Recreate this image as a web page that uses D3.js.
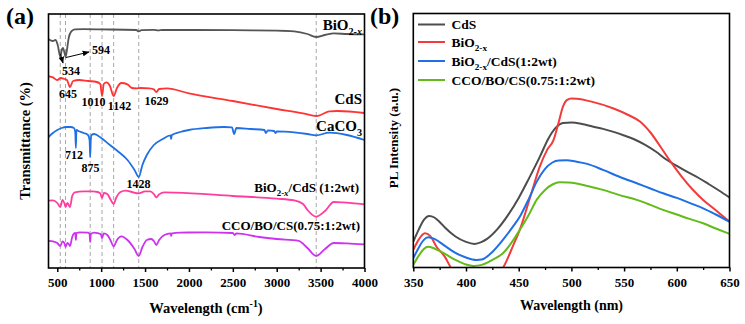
<!DOCTYPE html>
<html>
<head>
  <meta charset="utf-8">
  <title>FTIR and PL spectra</title>
  <style>
    body { margin: 0; background: #fff; }
    text { font-family: "Liberation Serif", "Times New Roman", serif; font-weight: bold; fill: #000; }
  </style>
</head>
<body>
<div id="chart"></div>
<script src="https://cdn.jsdelivr.net/npm/d3@7"></script>
<script>
// ---- panel (a): FTIR, [wavenumber, transmittance (a.u., stacked)] ----
var ftirBiO = [[400,114.4],[450,113.5],[480,114],[505,111.5],[534,105.8],[555,109.5],[565,110],[580,108],[594,105.5],
  [610,109],[630,115],[660,118.3],[700,119.3],[800,119.4],[1000,119.3],[1400,119],[1428,118.3],[1460,118.9],[1600,119.1],
  [1650,118.8],[1700,119],[2000,119],[2500,118.9],[3000,118.7],[3200,118.3],[3350,117],[3450,115.5],[3550,116.5],
  [3650,117.3],[3800,117],[4000,116.8]];
var ftirCdS = [[400,96],[450,95.3],[500,94],[540,95],[580,94.5],[610,94],[645,90.5],[680,93.5],[750,94],[850,93.5],
  [950,93],[990,92],[1010,86],[1030,92],[1060,92.8],[1100,91],[1142,86],[1180,90],[1230,92.5],[1300,91.8],[1350,90],
  [1400,89.8],[1450,90],[1550,89.8],[1600,89.3],[1629,88],[1660,89.5],[1750,89.8],[2000,87.3],[2500,83.5],[3000,79.5],
  [3300,77.3],[3400,76.3],[3450,76],[3500,76.5],[3600,78.3],[3700,78.5],[4000,77.5]];
var ftirCaCO3 = [[400,65.5],[450,67.5],[500,69],[550,70],[600,70.5],[650,70.5],[690,70],[705,68],[712,60],[718,69],
  [740,68.5],[800,67.5],[850,66.5],[868,64],[875,55.5],[882,64],[890,66.5],[920,67],[1000,65],[1100,61.5],[1200,58],
  [1300,54],[1380,49],[1428,45.5],[1470,51.5],[1520,56.5],[1600,61.5],[1700,64.5],[1790,66.3],[1797,64.5],[1805,66.5],
  [1900,68],[2000,69],[2200,70],[2400,70.5],[2490,70.3],[2515,67],[2540,70],[2700,69.5],[2860,69],[2875,67.5],
  [2900,68.8],[2970,68.5],[2985,67.5],[3000,68.3],[3200,67.8],[3350,67],[3450,66.3],[3600,67.7],[3800,66.5],[4000,64]];
var ftirBiOCdS = [[400,33.7],[450,33.8],[500,32.5],[534,30.5],[560,34],[580,32.5],[594,30.5],[615,32.5],[630,31.5],
  [645,30.5],[670,36],[700,37.8],[800,38.3],[900,38.3],[960,38],[990,37.3],[1010,35],[1030,37.5],[1070,37],[1110,34],
  [1142,32],[1170,35],[1220,38],[1280,38.7],[1350,38],[1428,37.3],[1500,38.3],[1560,38.3],[1600,37],[1629,35.3],
  [1660,36.8],[1720,37.8],[1850,37.7],[2500,36],[3000,34.7],[3200,33.8],[3300,32],[3350,29],[3450,25.7],[3550,28.5],
  [3650,33],[3750,32.8],[4000,31.8]];
var ftirCCO = [[400,13.6],[450,13.3],[500,12.5],[534,11],[560,13.3],[580,12.5],[594,10.5],[615,12.5],[630,12],[645,11],
  [670,15.5],[690,17.3],[705,17.5],[712,14],[718,17.5],[760,17.8],[850,17.7],[868,17],[875,13],[882,17],[920,17.7],
  [970,17.3],[995,17],[1010,15],[1030,17.3],[1070,16.5],[1110,13.5],[1142,10.8],[1180,14],[1230,15.8],[1300,14],
  [1380,9.5],[1428,6],[1470,10.5],[1520,14],[1570,14.5],[1600,13.5],[1629,11.5],[1660,14],[1720,16.5],[1790,17.3],
  [1797,16],[1805,17.3],[1900,17.7],[2200,17.8],[2500,17.5],[2520,16.5],[2540,17.3],[2800,15.5],[3000,14.5],
  [3250,13.6],[3350,10],[3450,6],[3550,9.5],[3650,12.5],[3800,12.3],[4000,11.8]];
var markedPeaks = [534, 594, 875, 1010, 1142, 1428, 3450];
var ftirTicks = [500, 1000, 1500, 2000, 2500, 3000, 3500, 4000];

// ---- panel (b): PL, [wavelength nm, intensity a.u.] ----
var plCdS = [[350,12.9],[355,18.8],[360,23.8],[365,25.8],[370,25],[375,22.8],[380,20],[390,15.5],[400,12.8],[408,11.8],
  [415,12.8],[420,14.3],[430,19.3],[440,26.3],[450,34.8],[460,44.8],[470,55.3],[478,64.3],[485,69.8],[492,72.3],
  [500,72.5],[510,71.8],[520,70.5],[530,69.3],[540,67.8],[550,66],[560,64],[570,61.3],[580,58],[590,54],[600,50.8],
  [610,47.8],[620,45],[630,41.8],[640,38.5],[650,35]];
var plBiO = [[350,8.8],[355,13.8],[361,17.1],[366,15.8],[372,10.4],[380,5.3],[386,-0.4],[395,-6],[410,-11],[425,-6],
  [435,-0.3],[445,11.3],[451,18.8],[461,35.4],[470,50.4],[477,58.8],[483,63.7],[488,72.8],[492,80.4],[496,83.8],
  [500,84.5],[505,84.4],[520,82.8],[540,79.5],[555,76],[565,73],[575,67.5],[585,60],[595,52.3],[605,45.2],
  [615,39],[625,33.8],[635,29.5],[650,22.9]];
var plBiOCdS = [[350,4.6],[355,9.8],[360,13.8],[364,15.1],[370,14.3],[380,10.8],[390,7.3],[400,5],[410,3.8],[415,4],
  [425,7.8],[435,13.8],[445,20.8],[451,25.4],[460,34.8],[467,42.8],[475,49.3],[482,52.5],[488,53.5],[495,53.6],
  [505,52.9],[515,51.8],[530,48.8],[545,45.5],[562,42.1],[575,39.5],[587,37.1],[600,34.8],[612,32.3],[625,29.6],
  [637,26.5],[650,22.9]];
var plCCO = [[350,1.3],[355,5.8],[360,9.3],[364,10.4],[370,9.5],[380,6.8],[390,3.8],[400,1.5],[407,0.8],[415,1.3],
  [425,3.8],[435,7.1],[445,13.8],[451,18.8],[460,26.8],[467,33.8],[475,38.8],[482,41.5],[489,42.6],[497,42.5],
  [505,42],[515,40.8],[530,38.8],[545,36.3],[562,33.8],[575,31.3],[587,28.8],[600,26.5],[612,24.3],[625,22.1],
  [637,19.5],[650,16.8]];
var plTicks = [350, 400, 450, 500, 550, 600, 650];

var W = 745, H = 324;
var svg = d3.select("#chart").append("svg").attr("width", W).attr("height", H);

//******* scales *******
var xA = d3.scaleLinear().domain([400, 4000]).range([48.5, 364.5]);
var yA = d3.scaleLinear().domain([0, 127]).range([268, 14]);
var xB = d3.scaleLinear().domain([350, 650]).range([413.3, 729.5]);
var yB = d3.scaleLinear().domain([0, 127]).range([267.5, 13.5]);

var defs = svg.append("defs");
defs.append("clipPath").attr("id", "clipA").append("rect")
  .attr("x", 48.5).attr("y", 14).attr("width", 316).attr("height", 254);
defs.append("clipPath").attr("id", "clipB").append("rect")
  .attr("x", 413.3).attr("y", 13.5).attr("width", 316.2).attr("height", 254);
defs.append("marker").attr("id", "arrow").attr("viewBox", "0 0 10 10")
  .attr("refX", 9).attr("refY", 5).attr("markerWidth", 7).attr("markerHeight", 7)
  .attr("orient", "auto-start-reverse")
  .append("path").attr("d", "M0,1 L10,5 L0,9 z").attr("fill", "#000");

// helper for subscripted/superscripted labels
function richText(g, x, y, parts, size, anchor) {
  var t = g.append("text").attr("x", x).attr("y", y).attr("text-anchor", anchor || "start").style("font-size", size + "px");
  parts.forEach(function(p) {
    var s = t.append("tspan").text(p.t);
    if (p.sub) s.attr("dy", size * 0.3).style("font-size", (size * 0.68) + "px");
    if (p.sup) s.attr("dy", -size * 0.38).style("font-size", (size * 0.68) + "px");
    if (p.back) s.attr("dy", p.back);
    if (p.it) s.style("font-style", "italic");
  });
  return t;
}

//******* panel (a) *******
var gA = svg.append("g");
var lineA = d3.line().x(function(d) { return xA(d[0]); }).y(function(d) { return yA(d[1]); }).curve(d3.curveMonotoneX);

gA.selectAll(".peakLine").data(markedPeaks).enter().append("line")
  .attr("x1", function(d) { return xA(d); }).attr("x2", function(d) { return xA(d); })
  .attr("y1", yA(127)).attr("y2", yA(0))
  .attr("stroke", "#a8a8a8").attr("stroke-width", 1).attr("stroke-dasharray", "4,3");

var seriesA = [
  { data: ftirBiO, color: "#555555" },
  { data: ftirCdS, color: "#ff3333" },
  { data: ftirCaCO3, color: "#1f6fe5" },
  { data: ftirBiOCdS, color: "#ff3d9e" },
  { data: ftirCCO, color: "#cc33ee" }
];
gA.append("g").attr("clip-path", "url(#clipA)").selectAll("path").data(seriesA).enter().append("path")
  .attr("d", function(d) { return lineA(d.data); })
  .attr("fill", "none").attr("stroke", function(d) { return d.color; }).attr("stroke-width", 1.8);

gA.append("rect").attr("x", 48.5).attr("y", 14).attr("width", 316).attr("height", 254)
  .attr("fill", "none").attr("stroke", "#000").attr("stroke-width", 1.6);

var axA = gA.append("g").attr("transform", "translate(0,268)")
  .call(d3.axisBottom(xA).tickValues(ftirTicks).tickSize(4).tickFormat(d3.format("d")));
axA.select(".domain").remove();
axA.selectAll("line").attr("stroke-width", 1.5);
axA.selectAll("text").attr("y", 19).attr("dy", 0).style("font-size", "13px")
  .style("font-family", "Liberation Serif").style("font-weight", "bold");
gA.append("g").attr("transform", "translate(0,268)")
  .call(d3.axisBottom(xA).tickValues(d3.range(750, 4000, 500)).tickSize(2.5).tickFormat(""))
  .call(function(g) { g.select(".domain").remove(); g.selectAll("line").attr("stroke-width", 1.3); });

richText(gA, 206, 313, [{ t: "Wavelength (cm" }, { t: "-1", sup: true }, { t: ")", back: 14 * 0.38 }], 14.5, "middle");
gA.append("text").attr("transform", "translate(30,141) rotate(-90)").attr("text-anchor", "middle")
  .style("font-size", "14.5px").text("Transmittance (%)");
gA.append("text").attr("x", 6).attr("y", 24).style("font-size", "24px").text("(a)");

// series names
richText(gA, 362, 30, [{ t: "BiO" }, { t: "2-", sub: true }, { t: "x", it: true, sub: false }], 15, "end")
  .select("tspan:last-child").style("font-size", "10px");
gA.append("text").attr("x", 362).attr("y", 104).attr("text-anchor", "end").style("font-size", "15px").text("CdS");
richText(gA, 362, 131, [{ t: "CaCO" }, { t: "3", sub: true }], 15, "end");
richText(gA, 359, 192, [{ t: "BiO" }, { t: "2-", sub: true }, { t: "x", it: true }, { t: "/CdS (1:2wt)", back: -13 * 0.3 }], 13, "end")
  .selectAll("tspan").filter(function(d, i) { return i === 2; }).style("font-size", "9px");
gA.append("text").attr("x", 360).attr("y", 230).attr("text-anchor", "end").style("font-size", "13px").text("CCO/BO/CS(0.75:1:2wt)");

// peak labels
var peakText = [["594", 101, 54], ["534", 71, 75], ["645", 68, 98], ["1010", 93.5, 106], ["1142", 119.5, 110],
  ["1629", 156.5, 105], ["712", 74, 159], ["875", 90.5, 172], ["1428", 138.5, 188]];
gA.selectAll(".peakText").data(peakText).enter().append("text")
  .attr("x", function(d) { return d[1]; }).attr("y", function(d) { return d[2]; })
  .attr("text-anchor", "middle").style("font-size", "12px").text(function(d) { return d[0]; });
gA.append("line").attr("x1", 66).attr("y1", 57.5).attr("x2", 89).attr("y2", 52)
  .attr("stroke", "#000").attr("stroke-width", 1).attr("marker-end", "url(#arrow)");
gA.append("line").attr("x1", 60.5).attr("y1", 54).attr("x2", 63).attr("y2", 63)
  .attr("stroke", "#000").attr("stroke-width", 1).attr("marker-end", "url(#arrow)");

//******* panel (b) *******
var gB = svg.append("g");
var lineB = d3.line().x(function(d) { return xB(d[0]); }).y(function(d) { return yB(d[1]); }).curve(d3.curveMonotoneX);
var seriesB = [
  { name: "CdS", data: plCdS, color: "#4d4d4d" },
  { name: "BiO2-x", data: plBiO, color: "#f23b3b" },
  { name: "BiO2-x/CdS(1:2wt)", data: plBiOCdS, color: "#1f6fe5" },
  { name: "CCO/BO/CS(0.75:1:2wt)", data: plCCO, color: "#62bb1a" }
];
gB.append("g").attr("clip-path", "url(#clipB)").selectAll("path").data(seriesB).enter().append("path")
  .attr("d", function(d) { return lineB(d.data); })
  .attr("fill", "none").attr("stroke", function(d) { return d.color; }).attr("stroke-width", 2);

gB.append("rect").attr("x", 413.3).attr("y", 13.5).attr("width", 316.2).attr("height", 254)
  .attr("fill", "none").attr("stroke", "#000").attr("stroke-width", 1.6);

var axB = gB.append("g").attr("transform", "translate(0,267.5)")
  .call(d3.axisBottom(xB).tickValues(plTicks).tickSize(4).tickFormat(d3.format("d")));
axB.select(".domain").remove();
axB.selectAll("line").attr("stroke-width", 1.5);
axB.selectAll("text").attr("y", 19.5).attr("dy", 0).style("font-size", "13px")
  .style("font-family", "Liberation Serif").style("font-weight", "bold");
gB.append("g").attr("transform", "translate(0,267.5)")
  .call(d3.axisBottom(xB).tickValues(d3.range(375, 650, 50)).tickSize(2.5).tickFormat(""))
  .call(function(g) { g.select(".domain").remove(); g.selectAll("line").attr("stroke-width", 1.3); });

gB.append("text").attr("x", 571.5).attr("y", 310).attr("text-anchor", "middle").style("font-size", "14px").text("Wavelength (nm)");
gB.append("text").attr("transform", "translate(398,138) rotate(-90)").attr("text-anchor", "middle")
  .style("font-size", "13px").text("PL Intensity (a.u.)");
gB.append("text").attr("x", 370).attr("y", 24).style("font-size", "24px").text("(b)");

// legend
var legY = [24.5, 42, 61, 80];
var leg = gB.selectAll(".leg").data(seriesB).enter().append("g")
  .attr("transform", function(d, i) { return "translate(418," + legY[i] + ")"; });
leg.append("line").attr("x1", 0).attr("x2", 27).attr("stroke", function(d) { return d.color; }).attr("stroke-width", 2);
leg.each(function(d, i) {
  var g = d3.select(this);
  if (i === 0) richText(g, 33.5, 4.5, [{ t: "CdS" }], 13.5);
  if (i === 1) richText(g, 33.5, 4.5, [{ t: "BiO" }, { t: "2-x", sub: true }], 13.5);
  if (i === 2) richText(g, 33.5, 4.5, [{ t: "BiO" }, { t: "2-x", sub: true }, { t: "/CdS(1:2wt)", back: -13.5 * 0.3 }], 13.5);
  if (i === 3) richText(g, 33.5, 4.5, [{ t: "CCO/BO/CS(0.75:1:2wt)" }], 13.5);
});
</script>
</body>
</html>
